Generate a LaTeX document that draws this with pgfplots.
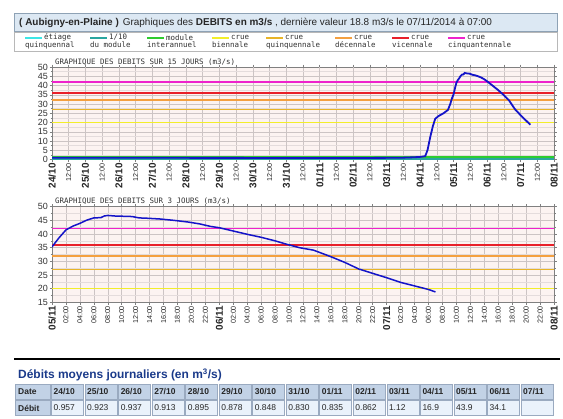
\documentclass[border=0pt]{standalone}
\usepackage{pgfplots}
\pgfplotsset{compat=1.18}
\usepackage{fontspec}
\setmainfont{Liberation Sans}
\newfontfamily\mono{DejaVu Sans Mono}
\definecolor{titlebg}{HTML}{DCE8F3}
\definecolor{titlebd}{HTML}{8EA2B5}
\definecolor{legbd}{HTML}{B8B8B8}
\definecolor{plotbg}{HTML}{FCF3F1}
\definecolor{gridmin}{HTML}{E4DCDC}
\definecolor{gridmaj}{HTML}{CCC4C4}
\definecolor{gridday}{HTML}{A8A4A4}
\definecolor{axgray}{HTML}{808080}
\definecolor{magC}{HTML}{EE22CC}
\definecolor{redV}{HTML}{E8202A}
\definecolor{orangeD}{HTML}{F4A040}
\definecolor{goldQ}{HTML}{E8B428}
\definecolor{yellowB}{HTML}{F2EE2A}
\definecolor{greenM}{HTML}{2ECC2E}
\definecolor{tealM}{HTML}{2AA6A0}
\definecolor{cyanE}{HTML}{3CE6E6}
\definecolor{dataB}{HTML}{1414C8}
\definecolor{ttl}{HTML}{1A3A8A}
\definecolor{hdr}{HTML}{C2D2E6}
\definecolor{hdrbd}{HTML}{9AAAC0}
\definecolor{cellbg}{HTML}{EAF2FB}
\newcommand\D[1]{{\fontsize{10}{10}\selectfont\bfseries #1}}
\newcommand\Hh[1]{{\fontsize{7.2}{8}\selectfont #1}}
\pgfplotsset{
  chartstyle/.style={
    scale only axis, width=502bp,
    axis background/.style={fill=plotbg},
    axis line style={draw=axgray, line width=0.6bp},
    xticklabel style={rotate=90, anchor=east, inner sep=1bp, text=black!85},
    yticklabel style={font=\fontsize{9}{9}\selectfont, text=black!80, inner sep=1.5bp},
    /pgf/number format/assume math mode=true,
    grid=both,
    major grid style={draw=gridmaj, line width=0.5bp},
    minor grid style={draw=gridmin, line width=0.5bp},
    tick align=outside, major tick length=2.5bp, minor tick length=1.5bp,
    tick style={draw=axgray, line width=0.5bp},
    extra x tick labels={},
    extra x tick style={grid style={draw=gridday, line width=0.6bp}, major tick length=0pt},
  }
}
\begin{document}
\begin{tikzpicture}[x=1bp,y=-1bp]
\useasboundingbox (0,0) rectangle (563,418);
\fill[white] (0,0) rectangle (563,418);
% title box
\filldraw[fill=titlebg, draw=titlebd, line width=0.8bp] (14.5,13.5) rectangle (557.5,31);
\node[anchor=west, inner sep=0, font=\fontsize{10}{11}\selectfont, text=black!85] at (19,22.5)
 {\textbf{( Aubigny-en-Plaine )}\hspace{4bp}Graphiques des \textbf{DEBITS en m3/s} , dernière valeur 18.8 m3/s le 07/11/2014 à 07:00};
% legend box
\filldraw[fill=white, draw=legbd, line width=0.8bp] (14.5,32.5) rectangle (557.5,51);
\begin{scope}[every node/.style={anchor=west, inner sep=0, font=\mono\fontsize{7.5}{8}\selectfont, text=black!80}]
\draw[cyanE, line width=2bp] (25,37.5) -- (42,37.5); \node at (44,37.5) {étiage}; \node at (25,45) {quinquennal};
\draw[tealM, line width=2bp] (90,37.5) -- (107,37.5); \node at (109,37.5) {1/10}; \node at (90,45) {du module};
\draw[greenM, line width=2bp] (147,37.5) -- (164,37.5); \node at (166,37.5) {module}; \node at (147,45) {interannuel};
\draw[yellowB, line width=2bp] (212,37.5) -- (229,37.5); \node at (231,37.5) {crue}; \node at (212,45) {biennale};
\draw[goldQ, line width=2bp] (266,37.5) -- (283,37.5); \node at (285,37.5) {crue}; \node at (266,45) {quinquennale};
\draw[orangeD, line width=2bp] (335,37.5) -- (352,37.5); \node at (354,37.5) {crue}; \node at (335,45) {décennale};
\draw[redV, line width=2bp] (392,37.5) -- (409,37.5); \node at (411,37.5) {crue}; \node at (392,45) {vicennale};
\draw[magC, line width=2bp] (448,37.5) -- (465,37.5); \node at (467,37.5) {crue}; \node at (448,45) {cinquantennale};
\node at (55,62) {GRAPHIQUE DES DEBITS SUR 15 JOURS (m3/s)};
\node at (55,201.5) {GRAPHIQUE DES DEBITS SUR 3 JOURS (m3/s)};
\end{scope}

% chart 1 : 15 days
\begin{axis}[chartstyle,
  at={(52bp,-159.5bp)}, anchor=south west, height=92.5bp,
  xmin=0, xmax=15, ymin=0, ymax=50,
  xtick={0,0.5,1,1.5,2,2.5,3,3.5,4,4.5,5,5.5,6,6.5,7,7.5,8,8.5,9,9.5,10,10.5,11,11.5,12,12.5,13,13.5,14,14.5,15},
  xticklabels={\D{24/10},\Hh{12:00},\D{25/10},\Hh{12:00},\D{26/10},\Hh{12:00},\D{27/10},\Hh{12:00},\D{28/10},\Hh{12:00},\D{29/10},\Hh{12:00},\D{30/10},\Hh{12:00},\D{31/10},\Hh{12:00},\D{01/11},\Hh{12:00},\D{02/11},\Hh{12:00},\D{03/11},\Hh{12:00},\D{04/11},\Hh{12:00},\D{05/11},\Hh{12:00},\D{06/11},\Hh{12:00},\D{07/11},\Hh{12:00},\D{08/11}},
  ytick={0,5,...,50}, minor ytick={2.5,7.5,...,47.5},
  extra x ticks={1,2,3,4,5,6,7,8,9,10,11,12,13,14},
]
\addplot[no marks, draw=cyanE, line width=1.8bp] coordinates {(0,0.3) (15,0.3)};
\addplot[no marks, draw=tealM, line width=1.8bp] coordinates {(0,0.15) (15,0.15)};
\addplot[no marks, draw=greenM, line width=1.8bp] coordinates {(0,1.45) (15,1.45)};
\addplot[no marks, draw=yellowB, line width=1.8bp] coordinates {(0,20) (15,20)};
\addplot[no marks, draw=goldQ, line width=1.8bp] coordinates {(0,27) (15,27)};
\addplot[no marks, draw=orangeD, line width=1.8bp] coordinates {(0,32) (15,32)};
\addplot[no marks, draw=redV, line width=1.8bp] coordinates {(0,36) (15,36)};
\addplot[no marks, draw=magC, line width=1.8bp] coordinates {(0,42) (15,42)};
\addplot[no marks, draw=dataB, line width=1.8bp] coordinates {
(0,0.96) (0.5,0.96) (1,0.93) (1.5,0.92) (2,0.94) (2.5,0.94) (3,0.92) (3.5,0.91)
(4,0.90) (4.5,0.89) (5,0.88) (5.5,0.88) (6,0.86) (6.5,0.85) (7,0.84) (7.5,0.83)
(8,0.83) (8.5,0.84) (9,0.85) (9.5,0.86) (10,0.9) (10.5,1.0) (10.8,1.2) (11.0,1.4)
(11.15,1.8) (11.22,5) (11.3,12) (11.38,18) (11.45,22) (11.55,23.5) (11.7,25)
(11.83,26.8) (11.9,30) (11.95,33) (12.0,35.3) (12.042,38.6) (12.083,41.5)
(12.125,42.9) (12.167,43.9) (12.208,45.1) (12.25,45.9) (12.292,46.0) (12.333,46.8)
(12.375,46.6) (12.479,46.4) (12.5625,45.8) (12.646,45.5) (12.729,45.0) (12.8125,44.4)
(12.896,43.6) (13.0,42.3) (13.167,39.9) (13.333,37.5) (13.5,34.8) (13.667,31.7)
(13.833,27.2) (14.0,24.0) (14.167,21.0) (14.292,18.8)
};
\end{axis}

% chart 2 : 3 days
\begin{axis}[chartstyle,
  at={(52bp,-302.3bp)}, anchor=south west, height=95.6bp,
  xmin=0, xmax=72, ymin=15, ymax=50,
  xtick={0,2,...,72},
  xticklabels={\D{05/11},\Hh{02:00},\Hh{04:00},\Hh{06:00},\Hh{08:00},\Hh{10:00},\Hh{12:00},\Hh{14:00},\Hh{16:00},\Hh{18:00},\Hh{20:00},\Hh{22:00},
  \D{06/11},\Hh{02:00},\Hh{04:00},\Hh{06:00},\Hh{08:00},\Hh{10:00},\Hh{12:00},\Hh{14:00},\Hh{16:00},\Hh{18:00},\Hh{20:00},\Hh{22:00},
  \D{07/11},\Hh{02:00},\Hh{04:00},\Hh{06:00},\Hh{08:00},\Hh{10:00},\Hh{12:00},\Hh{14:00},\Hh{16:00},\Hh{18:00},\Hh{20:00},\Hh{22:00},\D{08/11}},
  ytick={15,20,...,50}, minor ytick={17.5,22.5,...,47.5},
  extra x ticks={24,48},
]
\addplot[no marks, draw=yellowB, line width=1.5bp] coordinates {(0,20) (72,20)};
\addplot[no marks, draw=goldQ, line width=1.5bp] coordinates {(0,27) (72,27)};
\addplot[no marks, draw=orangeD, line width=1.5bp] coordinates {(0,32) (72,32)};
\addplot[no marks, draw=redV, line width=1.5bp] coordinates {(0,36) (72,36)};
\addplot[no marks, draw=magC, line width=1.5bp] coordinates {(0,42) (72,42)};
\addplot[no marks, draw=dataB, line width=1.5bp] coordinates {
(0,35.3) (1,38.6) (2,41.5) (3,42.9) (4,43.9) (5,45.1) (6,45.9) (7,46.0) (7.5,46.6)
(8,46.8) (9,46.6) (11.5,46.4) (12.5,45.9) (13.5,45.8) (15.5,45.5) (17.5,45.0)
(19.5,44.4) (21.2,43.7) (22.7,42.8) (24,42.3) (26,41.1) (28,39.9) (30,38.8)
(32,37.5) (33.6,36.3) (35.5,35.0) (37.5,34.1) (40,31.7) (42,29.6) (44,27.2)
(46,25.6) (48,24.0) (50,22.3) (52,21.0) (54,19.7) (55,18.8)
};
\end{axis}

% separator
\draw[black, line width=1.5bp] (14,359) -- (560,359);
\node[anchor=west, inner sep=0, font=\fontsize{12}{13}\selectfont\bfseries, text=ttl] at (18,375)
 {Débits moyens journaliers (en m\textsuperscript{3}/s)};
% table
\filldraw[fill=hdr, draw=hdrbd, line width=0.6bp] (15.5,384.5) rectangle (50,399.5);
\node[anchor=west, inner sep=0, font=\fontsize{8.5}{9}\selectfont\bfseries, text=black!85] at (18,392) {Date};
\filldraw[fill=hdr, draw=hdrbd, line width=0.6bp] (15.5,400.5) rectangle (50,415.5);
\node[anchor=west, inner sep=0, font=\fontsize{8.5}{9}\selectfont\bfseries, text=black!85] at (18,408) {Débit};
\foreach \d [count=\i from 0] in {24/10,25/10,26/10,27/10,28/10,29/10,30/10,31/10,01/11,02/11,03/11,04/11,05/11,06/11,07/11} {
  \pgfmathsetmacro\L{51+\i*33.53}
  \filldraw[fill=hdr, draw=hdrbd, line width=0.6bp] (\L+0.5,384.5) rectangle (\L+32.5,399.5);
  \node[anchor=west, inner sep=0, font=\fontsize{8.5}{9}\selectfont\bfseries, text=black!85] at (\L+2.5,392) {\d};
}
\foreach \v [count=\i from 0] in {0.957,0.923,0.937,0.913,0.895,0.878,0.848,0.830,0.835,0.862,1.12,16.9,43.9,34.1,{}} {
  \pgfmathsetmacro\L{51+\i*33.53}
  \filldraw[fill=cellbg, draw=hdrbd, line width=0.6bp] (\L+0.5,400.5) rectangle (\L+32.5,415.5);
  \node[anchor=west, inner sep=0, font=\fontsize{8.5}{9}\selectfont, text=black!85] at (\L+2.5,408) {\v};
}
\end{tikzpicture}
\end{document}
